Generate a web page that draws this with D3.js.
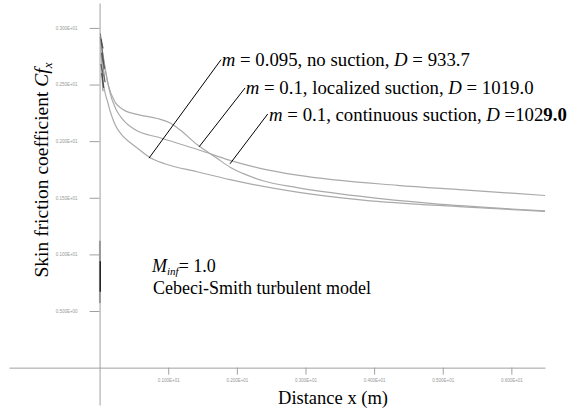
<!DOCTYPE html>
<html>
<head>
<meta charset="utf-8">
<script src="https://cdn.jsdelivr.net/npm/d3@7"></script>
<style>
  body { margin: 0; background: #fff; }
  svg { display: block; }
  .lbl { font-family: "Liberation Serif", "Times New Roman", serif; fill: #000; }
</style>
</head>
<body>
<div id="chart"></div>
<script>
// tick values and their printed labels
const xTicks = [1, 2, 3, 4, 5, 6];
const xTickLabels = ["0.100E+01", "0.200E+01", "0.300E+01", "0.400E+01", "0.500E+01", "0.600E+01"];
const yTicks = [0.5, 1.0, 1.5, 2.0, 2.5, 3.0];
const yTickLabels = ["0.500E+00", "0.100E+01", "0.150E+01", "0.200E+01", "0.250E+01", "0.300E+01"];

// m = 0.095, no suction
const noSuctionX  = [0.01, 0.05, 0.12, 0.23, 0.33, 0.44, 0.59, 0.72, 0.95, 1.42, 1.90, 2.88, 3.84, 5.30, 6.49];
const noSuctionCf = [2.92, 2.54, 2.34, 2.14, 2.05, 1.99, 1.92, 1.86, 1.80, 1.73, 1.66, 1.55, 1.48, 1.42, 1.38];

// m = 0.1, localized suction
const localX  = [0.01, 0.12, 0.23, 0.34, 0.59, 0.84, 1.03, 1.17, 1.42, 1.71, 1.90, 2.15, 2.38, 2.88, 3.84, 4.82, 6.49];
const localCf = [2.92, 2.51, 2.34, 2.28, 2.23, 2.20, 2.16, 2.10, 1.97, 1.85, 1.77, 1.70, 1.65, 1.59, 1.51, 1.45, 1.385];

// m = 0.1, continuous suction
const contX  = [0.01, 0.08, 0.15, 0.24, 0.34, 0.52, 0.88, 1.46, 1.90, 2.34, 2.88, 4.34, 5.30, 6.49];
const contCf = [2.92, 2.65, 2.43, 2.28, 2.19, 2.10, 2.03, 1.92, 1.83, 1.76, 1.70, 1.61, 1.57, 1.52];

// start-up transient near x = 0
const spikeX  = [0.01, 0.05, 0.02, 0.07, 0.03, 0.08, 0.02, 0.06, 0.03, 0.05];
const spikeCf = [2.95, 2.82, 2.90, 2.64, 2.78, 2.52, 2.68, 2.47, 2.60, 2.44];
const lowX  = [0.005, 0.005];
const lowCf = [1.12, 0.57];
const lowDarkX  = [0.01, 0.01];
const lowDarkCf = [0.94, 0.67];

// annotation: point on curve, top of leader and start of text, in data units
const notes = [
  {curve: [0.72, 1.85], tip: [1.77, 2.72], text: [1.78, 2.66], m: "0.095", what: "no suction", d: " = 933.7"},
  {curve: [1.45, 1.95], tip: [2.12, 2.47], text: [2.13, 2.42], m: "0.1", what: "localized suction", d: " = 1019.0"},
  {curve: [1.90, 1.80], tip: [2.45, 2.24], text: [2.47, 2.18], m: "0.1", what: "continuous suction", d: " =102", bold: "9.0"}
];

const W = 568, H = 413;
const svg = d3.select("#chart").append("svg").attr("width", W).attr("height", H);

let x = d3.scaleLinear().domain([-1.32, 6.49]).range([9, 545]);
let y = d3.scaleLinear().domain([-0.33, 3.22]).range([405, 3]);

const axisColor = "#a0a0a0";

// x axis
let xAxis = d3.axisBottom(x).tickValues(xTicks).tickSize(7).tickSizeOuter(0)
  .tickFormat((d, i) => xTickLabels[i]);
let xg = svg.append("g").attr("transform", "translate(0," + y(0) + ")").call(xAxis);
xg.select(".domain").attr("stroke", axisColor);
xg.selectAll(".tick line").attr("stroke", axisColor);
xg.selectAll(".tick text").attr("fill", "#999").attr("font-size", 4.5)
  .attr("font-family", "Liberation Sans, Arial, sans-serif").attr("dy", "0.9em").attr("y", 10);

// y axis
let yAxis = d3.axisLeft(y).tickValues(yTicks).tickSize(10).tickSizeOuter(0)
  .tickFormat((d, i) => yTickLabels[i]);
let yg = svg.append("g").attr("transform", "translate(" + x(0) + ",0)").call(yAxis);
yg.select(".domain").attr("stroke", axisColor);
yg.selectAll(".tick line").attr("stroke", axisColor);
yg.selectAll(".tick text").attr("fill", "#999").attr("font-size", 4.5)
  .attr("font-family", "Liberation Sans, Arial, sans-serif").attr("x", -22);

let line = d3.line().x(d => x(d[0])).y(d => y(d[1])).curve(d3.curveMonotoneX);
let rawLine = d3.line().x(d => x(d[0])).y(d => y(d[1]));

function pairs(xs, ys) { return xs.map((v, i) => [v, ys[i]]); }

[pairs(noSuctionX, noSuctionCf), pairs(localX, localCf), pairs(contX, contCf)].forEach(s => {
  svg.append("path").datum(s).attr("d", line)
    .attr("fill", "none").attr("stroke", "#aaa").attr("stroke-width", 1.2);
});

svg.append("path").datum(pairs(spikeX, spikeCf)).attr("d", rawLine)
  .attr("fill", "none").attr("stroke", "#333").attr("stroke-width", 1).attr("opacity", 0.6);
svg.append("path").datum(pairs(lowX, lowCf)).attr("d", rawLine)
  .attr("fill", "none").attr("stroke", "#999").attr("stroke-width", 2);
svg.append("path").datum(pairs(lowDarkX, lowDarkCf)).attr("d", rawLine)
  .attr("fill", "none").attr("stroke", "#222").attr("stroke-width", 1.4);

// annotations
notes.forEach(n => {
  svg.append("line")
    .attr("x1", x(n.curve[0])).attr("y1", y(n.curve[1]))
    .attr("x2", x(n.tip[0])).attr("y2", y(n.tip[1]))
    .attr("stroke", "#000").attr("stroke-width", 1);
  let t = svg.append("text").attr("class", "lbl").attr("font-size", 18.8)
    .attr("x", x(n.text[0])).attr("y", y(n.text[1]));
  t.append("tspan").attr("font-style", "italic").text("m");
  t.append("tspan").text(" = " + n.m + ", " + n.what + ", ");
  t.append("tspan").attr("font-style", "italic").text("D");
  t.append("tspan").text(n.d);
  if (n.bold) t.append("tspan").attr("font-weight", "bold").text(n.bold);
});

// model text
let mt = svg.append("text").attr("class", "lbl").attr("font-size", 18)
  .attr("x", 152).attr("y", 272);
mt.append("tspan").attr("font-style", "italic").text("M");
mt.append("tspan").attr("font-style", "italic").attr("font-size", 11).attr("dy", 2.5).text("inf");
mt.append("tspan").attr("dy", -2.5).text("= 1.0");
svg.append("text").attr("class", "lbl").attr("font-size", 18)
  .attr("x", 153).attr("y", 294).text("Cebeci-Smith turbulent model");

// axis titles
svg.append("text").attr("class", "lbl").attr("font-size", 18.5)
  .attr("text-anchor", "middle").attr("x", 333).attr("y", 404).text("Distance x (m)");

let yt = svg.append("text").attr("class", "lbl").attr("font-size", 19.5)
  .attr("text-anchor", "middle")
  .attr("transform", "translate(48,170) rotate(-90)");
yt.append("tspan").text("Skin friction coefficient ");
yt.append("tspan").attr("font-style", "italic").text("Cf");
yt.append("tspan").attr("font-style", "italic").attr("font-size", 13).attr("dy", 4).text("x");
</script>
</body>
</html>
